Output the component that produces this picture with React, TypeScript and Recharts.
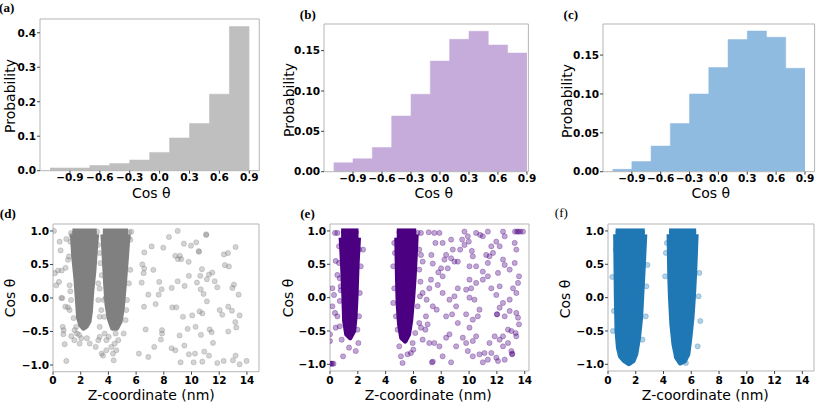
import React from 'react';
import { ComposedChart, Area, Scatter, XAxis, YAxis, ReferenceArea } from 'recharts';

// ---------- histogram data ----------
const binCenters = [-1.0, -0.8, -0.6, -0.4, -0.2, 0.0, 0.2, 0.4, 0.6, 0.8];
const binWidth = 0.2;
const histTicks = [-0.9, -0.6, -0.3, 0.0, 0.3, 0.6, 0.9];
const probA = [0.008, 0.008, 0.015, 0.021, 0.031, 0.053, 0.095, 0.137, 0.222, 0.418];
const probB = [0.011, 0.016, 0.030, 0.069, 0.096, 0.137, 0.164, 0.174, 0.157, 0.147];
const probC = [0.003, 0.013, 0.033, 0.062, 0.100, 0.134, 0.170, 0.181, 0.173, 0.133];
const yTicksA = [0, 0.1, 0.2, 0.3, 0.4];
const yTicksBC = [0, 0.05, 0.1, 0.15];

// ---------- scatter data ----------
const zTicks = [0, 2, 4, 6, 8, 10, 12, 14];
const cosTicks = [-1, -0.5, 0, 0.5, 1];
const clusterTop = 1.0;

// dense-cluster lower boundaries [z, lowest cos]
const clusterD1 = [[1.4, 0.95], [1.5, 0.6], [1.65, 0.3], [1.75, 0.0], [1.85, -0.3], [2.0, -0.4], [2.2, -0.45], [2.4, -0.42], [2.6, -0.35], [2.7, -0.2], [2.8, 0.1], [2.95, 0.4], [3.05, 0.7], [3.15, 0.95]];
const clusterD2 = [[3.6, 0.95], [3.7, 0.6], [3.8, 0.2], [3.9, -0.1], [4.05, -0.3], [4.3, -0.45], [4.6, -0.45], [4.85, -0.35], [5.0, -0.15], [5.15, 0.2], [5.3, 0.6], [5.42, 0.95]];
const clusterE1 = [[0.8, 0.9], [0.9, 0.5], [1.0, 0.0], [1.05, -0.35], [1.2, -0.55], [1.45, -0.6], [1.7, -0.5], [1.8, -0.3], [1.87, 0.0], [1.95, 0.5], [2.05, 0.9]];
const clusterE2 = [[4.8, 0.9], [4.85, 0.3], [4.9, -0.1], [5.0, -0.4], [5.15, -0.6], [5.4, -0.65], [5.65, -0.55], [5.8, -0.35], [5.95, 0.0], [6.05, 0.3], [6.15, 0.7], [6.2, 0.95]];
const clusterF1 = [[0.55, 0.95], [0.6, 0.0], [0.65, -0.5], [0.75, -0.75], [0.9, -0.88], [1.2, -0.95], [1.5, -0.99], [1.8, -0.95], [2.0, -0.85], [2.2, -0.6], [2.35, -0.3], [2.45, 0.1], [2.55, 0.5], [2.65, 0.95]];
const clusterF2 = [[4.4, 0.95], [4.45, 0.3], [4.5, 0.0], [4.6, -0.4], [4.75, -0.7], [4.95, -0.9], [5.2, -0.98], [5.5, -0.95], [5.75, -0.85], [5.9, -0.6], [6.05, -0.3], [6.15, 0.0], [6.25, 0.4], [6.35, 0.95]];

// sparse points [z, cos]
const sparseD = [
  [0.07, 1.0], [0.14, 0.37], [0.36, 0.41], [0.63, 0.41], [0.48, 0.84], [0.55, 0.71], [0.43, 0.24], [0.24, 0.19], [0.6, 0.0], [0.67, 0.0],
  [0.89, -0.13], [1.08, -0.14], [0.7, -0.43], [0.77, -0.48], [0.75, -0.54], [0.84, -0.69], [0.96, -0.94], [0.96, 0.88], [0.91, 0.45], [1.2, 0.19],
  [1.25, 0.1], [1.32, -0.57], [1.54, -0.63], [1.73, -0.53], [1.92, -0.68], [2.04, -0.6], [1.3, -0.03], [1.2, -0.18], [1.49, -0.3], [1.68, -0.43],
  [1.88, -0.55], [1.56, -0.48], [1.25, 0.84], [1.15, 0.62], [1.08, 0.57], [1.3, 0.97], [1.35, 0.93],
  [3.27, 0.22], [3.37, 0.14], [3.27, -0.03], [3.37, -0.28], [3.37, -0.43], [3.27, -0.63], [3.08, -0.73], [2.65, -0.68], [2.45, -0.6], [3.37, -0.58],
  [3.73, -0.53], [3.85, -0.63], [4.02, -0.58], [4.21, -0.73], [4.33, -0.83], [4.57, -0.78], [4.45, -0.68], [4.52, -0.53], [4.71, -0.63], [3.61, -0.86],
  [3.51, -0.83], [4.38, -0.93], [3.85, -0.78], [5.1, -0.53], [5.24, -0.33], [5.29, -0.18], [5.34, -0.03], [5.48, 0.22], [5.58, 0.42], [5.65, 0.99],
  [5.58, 0.87], [5.29, 0.72], [3.18, 0.99], [3.25, 0.79], [3.37, 0.67], [3.42, 0.52], [3.51, 0.34], [3.66, -0.03], [3.8, 0.0], [3.49, -0.18], [3.7, -0.28],
  [5.5, 0.98], [5.45, 0.9],
  [8.37, 0.91], [9.0, 1.0], [7.96, 0.75], [7.12, 0.77], [9.45, 0.81], [9.96, 0.78], [10.34, 0.83], [11.06, 0.95], [11.06, 0.94], [6.59, 0.68],
  [7.24, 0.42], [6.59, 0.44], [6.54, 0.37], [6.45, 0.5], [6.4, 0.23], [8.83, 0.63], [9.16, 0.63], [9.02, 0.58], [9.26, 0.58], [9.79, 0.54],
  [10.54, 0.69], [10.52, 0.7], [10.75, 0.43], [10.63, 0.33], [11.26, 0.35], [11.5, 0.38], [11.67, 0.25], [11.86, 0.16], [12.34, 0.65], [12.63, 0.67],
  [12.7, 0.47], [12.41, 0.49], [13.18, 0.76], [13.06, 0.2], [12.95, 0.15], [13.4, 0.05], [11.11, 0.28], [10.39, 0.23], [9.5, 0.18], [9.0, 0.25],
  [8.57, 0.15], [7.84, 0.13], [7.63, 0.05], [6.88, 0.05], [7.67, 0.24], [9.81, 0.33], [10.66, 0.13], [11.11, -0.05], [10.87, 0.06],
  [6.57, -0.13], [7.41, -0.09], [8.61, -0.14], [8.9, -0.14], [9.38, -0.28], [10.05, -0.26], [10.58, -0.2], [10.78, -0.23], [11.31, -0.47], [12.03, -0.18],
  [12.22, -0.25], [12.65, -0.13], [12.92, -0.19], [13.47, -0.26], [13.16, -0.36], [13.23, -0.44], [12.65, -0.5], [11.45, -0.51], [10.68, -0.55], [10.29, -0.43],
  [9.72, -0.46], [9.14, -0.56], [7.87, -0.48], [7.87, -0.53], [6.69, -0.47], [7.31, -0.73], [7.79, -0.62], [9.48, -0.71], [8.83, -0.78], [10.92, -0.8],
  [11.55, -0.67], [11.26, -0.86], [9.81, -0.84], [10.25, -0.83], [10.78, -0.95], [10.15, -0.96], [9.21, -0.96], [6.2, -0.83], [6.88, -0.88], [11.86, -0.97],
  [12.32, -0.94], [12.99, -0.93], [13.18, -0.86], [13.47, -0.99], [13.97, -0.94], [8.56, -0.75],
];

const sparseE = [
  [0.0, -0.99], [0.08, -0.99], [0.15, -0.99], [0.25, -0.99], [0.0, -0.55], [0.0, -0.65], [0.17, -0.13], [0.17, 0.14], [0.29, 0.04], [0.53, 0.34],
  [0.36, 0.97], [0.53, 0.97], [0.65, 0.77], [0.41, 0.55], [0.65, 0.52], [0.36, -0.23], [0.53, -0.28], [0.7, -0.43], [0.41, -0.45], [0.84, -0.63],
  [0.94, -0.88], [0.7, -0.05], [0.77, 0.11], [0.77, 0.17], [0.7, 0.29],
  [2.09, 0.72], [2.21, 0.47], [2.38, 0.72], [2.14, 0.07], [1.97, -0.48], [2.04, -0.68], [1.85, -0.8], [1.37, -0.75], [2.09, -0.28],
  [4.62, 0.82], [4.67, 0.67], [4.55, 0.47], [4.62, 0.14], [4.55, -0.08], [4.74, -0.28], [4.86, -0.48], [4.98, -0.73], [5.1, -0.88], [5.22, -0.98],
  [5.22, -0.43], [5.41, -0.63],
  [6.3, 0.97], [6.54, 0.97], [6.42, 0.72], [6.54, 0.64], [6.66, 0.54], [6.42, 0.42], [6.5, 0.24], [6.66, 0.07], [6.47, 0.02], [6.3, -0.13],
  [6.42, -0.38], [6.54, -0.45], [6.13, -0.53], [5.94, -0.68], [5.82, -0.83], [5.99, -0.78], [5.58, -0.85],
  [7.1, 0.98], [7.5, 0.97], [7.87, 0.97], [7.58, 0.82], [7.29, 0.64], [7.39, 0.51], [7.79, 0.38], [8.1, 0.32], [7.26, 0.27], [7.14, 0.14],
  [6.95, -0.03], [7.39, -0.13], [7.67, -0.18], [6.9, -0.28], [7.02, -0.4], [6.86, -0.48], [6.66, -0.63], [7.14, -0.68], [7.5, -0.68], [7.87, -0.73],
  [7.39, -0.96], [7.33, -0.97], [8.35, -0.6], [8.1, -0.88], [8.71, -0.97], [8.59, -0.55], [8.23, 0.57], [8.71, 0.59], [8.95, 0.54], [9.19, 0.54],
  [9.36, 0.72], [9.5, 0.87], [9.67, 0.99], [9.91, 0.92], [9.98, 0.84], [10.51, 0.97], [10.8, 0.94], [10.99, 0.92], [11.35, 0.99], [11.96, 0.84],
  [12.44, 0.99], [12.56, 0.92], [12.2, 0.77], [11.23, 0.64], [11.47, 0.62], [11.35, 0.52], [12.44, 0.57], [12.56, 0.49], [12.92, 0.42], [13.28, 0.52],
  [13.4, 0.72], [13.28, 0.82], [13.3, 0.99], [13.45, 0.99], [13.55, 0.99], [13.69, 0.99], [13.88, 0.99], [13.59, 0.32], [13.52, 0.22], [13.16, 0.14],
  [13.4, 0.07], [12.92, -0.03], [12.44, -0.08], [12.2, -0.15], [12.0, -0.25], [12.02, -0.25], [12.56, -0.28], [12.92, -0.2], [13.4, -0.23], [13.52, -0.3],
  [13.59, -0.4], [13.35, -0.53], [13.04, -0.5], [12.8, -0.48], [12.44, -0.58], [12.2, -0.63], [11.84, -0.58], [11.47, -0.68], [11.6, -0.83], [11.11, -0.83],
  [12.08, -0.95], [11.96, -0.9], [12.44, -0.73], [12.8, -0.68], [13.04, -0.8], [13.11, -0.84], [13.09, -0.85], [13.4, -0.58], [12.56, -0.93], [10.63, -0.28],
  [10.75, -0.18], [10.39, -0.03], [10.03, 0.0], [9.79, 0.12], [10.15, 0.14], [10.51, 0.22], [10.99, 0.27], [11.35, 0.32], [10.99, 0.39], [10.03, 0.27],
  [9.19, 0.14], [8.95, 0.02], [8.59, -0.03], [9.07, -0.13], [8.78, -0.25], [8.35, -0.28], [9.19, -0.38], [9.79, -0.25], [10.27, -0.33], [10.03, -0.45],
  [10.51, -0.58], [10.27, -0.65], [9.79, -0.68], [9.91, -0.8], [10.75, -0.85], [10.99, -0.97], [11.35, -0.93], [10.27, -0.88], [9.55, -0.6], [9.07, -0.73],
  [8.1, 0.07], [7.75, 0.19], [7.99, 0.44], [8.47, 0.44], [8.35, 0.64], [8.83, 0.72], [8.1, 0.82], [8.71, 0.87], [9.67, 0.79], [10.2, 0.7],
  [10.27, 0.62], [10.03, 0.47], [10.51, 0.47], [11.6, 0.77], [11.72, 0.67], [12.08, 0.37], [12.2, 0.17], [11.6, 0.14], [11.96, 0.04],
];

const sparseF = [
  [0.31, 0.31], [0.43, -0.2], [0.36, -0.5], [0.55, 0.72], [4.17, 0.67], [4.24, 0.82], [4.12, 0.32], [6.58, 0.37], [6.65, -0.35], [6.53, 0.02],
  [2.77, 0.17], [2.72, -0.28], [2.84, 0.49], [1.52, -0.98], [1.28, -0.85], [2.48, -0.63], [5.61, -0.98], [4.94, -0.88], [0.8, 0.97], [6.46, -0.73],
];

// ---------- helpers ----------
const minus = '\u2212';
const fmt = (d: number) => (v: number) => {
  const s = Math.abs(v).toFixed(d);
  return v < -1e-9 ? minus + s : s;
};
// step outline of bars: left edge of every bar, plus right edge of the last one
const stepData = (probs: number[]) => {
  const rows = binCenters.map((c, i) => ({ x: c - binWidth / 2, p: probs[i] }));
  rows.push({ x: binCenters[binCenters.length - 1] + binWidth / 2, p: probs[probs.length - 1] });
  return rows;
};
const clusterData = (c1: number[][], c2: number[][]) => [
  ...c1.map(([x, lo]) => ({ x, c1: [lo, clusterTop] })),
  ...c2.map(([x, lo]) => ({ x, c2: [lo, clusterTop] })),
];
const pts = (arr: number[][]) => arr.map(([x, y]) => ({ x, y }));

const YW = 44;
const MT = 8;
const MR = 14;
const XH = 22;
const SPINE = '#b5b5b5';
const TICK_FONT = { fontSize: 10.5, fontWeight: 700, fill: '#000', fontFamily: 'DejaVu Sans' } as const;

const makeXTick = (f: (v: number) => string, dy: number) => (props: any) => (
  <text x={props.x} y={props.y + dy} textAnchor="middle" {...TICK_FONT}>{f(props.payload.value)}</text>
);
const makeYTick = (f: (v: number) => string) => (props: any) => (
  <text x={props.x} y={props.y + 3.8} textAnchor="end" {...TICK_FONT}>{f(props.payload.value)}</text>
);

type Rect = { L: number; T: number; R: number; B: number };

function HistPanel({ rect, probs, color, xDomain, yDomain, yTicks, yDec }: { rect: Rect; probs: number[]; color: string; xDomain: number[]; yDomain: number[]; yTicks: number[]; yDec: number }) {
  const W = rect.R - rect.L + YW + MR;
  const H = rect.B - rect.T + MT + XH;
  return (
    <div style={{ position: 'absolute', left: rect.L - YW, top: rect.T - MT }}>
      <ComposedChart width={W} height={H} data={stepData(probs)} margin={{ top: MT, right: MR, bottom: 0, left: 0 }}>
        <XAxis type="number" dataKey="x" domain={xDomain} ticks={histTicks} interval={0} allowDataOverflow
          axisLine={false} tickSize={3} tickMargin={0} tickLine={{ stroke: '#444' }} tick={makeXTick(fmt(1), 7.8)} height={XH} />
        <YAxis type="number" domain={yDomain} ticks={yTicks} interval={0} allowDataOverflow
          axisLine={false} tickSize={3} tickMargin={1} tickLine={{ stroke: '#444' }} tick={makeYTick(fmt(yDec))} width={YW} />
        <Area type="stepAfter" dataKey="p" fill={color} fillOpacity={1} stroke={color} strokeWidth={0.5} isAnimationActive={false} />
        <ReferenceArea x1={xDomain[0]} x2={xDomain[1]} y1={yDomain[0]} y2={yDomain[1]} fill="none" stroke={SPINE} strokeWidth={1} ifOverflow="visible" />
      </ComposedChart>
    </div>
  );
}

function ScatterPanel({ rect, c1, c2, sparse, xMax, color, op }: { rect: Rect; c1: number[][]; c2: number[][]; sparse: number[][]; xMax: number; color: string; op: number }) {
  const W = rect.R - rect.L + YW + MR;
  const H = rect.B - rect.T + MT + XH;
  const xDomain = [0, xMax];
  const yDomain = [-1.1, 1.104];
  const dot = (props: any) => (
    <circle cx={props.cx} cy={props.cy} r={2.6} fill={color} fillOpacity={op} stroke={color} strokeOpacity={op} strokeWidth={0.8} />
  );
  return (
    <div style={{ position: 'absolute', left: rect.L - YW, top: rect.T - MT }}>
      <ComposedChart width={W} height={H} data={clusterData(c1, c2)} margin={{ top: MT, right: MR, bottom: 0, left: 0 }}>
        <XAxis type="number" dataKey="x" domain={xDomain} ticks={zTicks} interval={0} allowDataOverflow
          axisLine={false} tickSize={3} tickMargin={0} tickLine={{ stroke: '#444' }} tick={makeXTick((v) => String(v), 9.5)} height={XH} />
        <YAxis type="number" dataKey="y" domain={yDomain} ticks={cosTicks} interval={0} allowDataOverflow
          axisLine={false} tickSize={3} tickMargin={1} tickLine={{ stroke: '#444' }} tick={makeYTick(fmt(1))} width={YW} />
        <Area type="linear" dataKey="c1" fill={color} fillOpacity={1} stroke={color} strokeWidth={5} strokeLinejoin="round" isAnimationActive={false} />
        <Area type="linear" dataKey="c2" fill={color} fillOpacity={1} stroke={color} strokeWidth={5} strokeLinejoin="round" isAnimationActive={false} />
        <Scatter data={pts(sparse)} shape={dot} isAnimationActive={false} />
        <ReferenceArea x1={xDomain[0]} x2={xDomain[1]} y1={yDomain[0]} y2={yDomain[1]} fill="none" stroke={SPINE} strokeWidth={1} ifOverflow="visible" />
      </ComposedChart>
    </div>
  );
}

const Label = ({ text, x, y, rotate, style }: { text: string; x: number; y: number; rotate?: boolean; style?: any }) => (
  <div style={{
    position: 'absolute', left: x, top: y, whiteSpace: 'nowrap', lineHeight: 1,
    transform: `translate(-50%, -50%)${rotate ? ' rotate(-90deg)' : ''}`,
    fontFamily: 'DejaVu Sans', fontSize: 14, color: '#000', ...style,
  }}>{text}</div>
);

const panelFont = { fontFamily: 'Liberation Serif', fontWeight: 'bold', fontSize: 13 };

export default function App() {
  return (
    <div style={{ position: 'fixed', left: 0, top: 0, width: 817, height: 403, background: '#fff', overflow: 'hidden', fontFamily: 'DejaVu Sans' }}>
      <HistPanel rect={{ L: 40, T: 19, R: 259.3, B: 170.7 }} probs={probA} color="#bfbfbf" xDomain={[-1.2, 1.0]} yDomain={[0, 0.44]} yTicks={yTicksA} yDec={1} />
      <HistPanel rect={{ L: 324.3, T: 24, R: 528.7, B: 171.7 }} probs={probB} color="#c6acda" xDomain={[-1.2, 0.915]} yDomain={[0, 0.183]} yTicks={yTicksBC} yDec={2} />
      <HistPanel rect={{ L: 602.7, T: 24, R: 814.3, B: 171.7 }} probs={probC} color="#8fbbe0" xDomain={[-1.2, 1.0]} yDomain={[0, 0.19]} yTicks={yTicksBC} yDec={2} />

      <ScatterPanel rect={{ L: 53.3, T: 224, R: 259.3, B: 371.7 }} c1={clusterD1} c2={clusterD2} sparse={sparseD} xMax={14.87} color="#808080" op={0.35} />
      <ScatterPanel rect={{ L: 330.3, T: 224, R: 529.3, B: 371 }} c1={clusterE1} c2={clusterE2} sparse={sparseE} xMax={14.31} color="#4b0082" op={0.35} />
      <ScatterPanel rect={{ L: 608.3, T: 224, R: 814.3, B: 371 }} c1={clusterF1} c2={clusterF2} sparse={sparseF} xMax={14.84} color="#1f77b4" op={0.35} />

      <Label text="Probability" x={9.5} y={95.7} rotate />
      <Label text="Probability" x={289} y={100} rotate />
      <Label text="Probability" x={566.7} y={101} rotate />
      <Label text="Cos θ" x={151.3} y={192.5} />
      <Label text="Cos θ" x={433.8} y={193.2} />
      <Label text="Cos θ" x={710.8} y={193} />

      <Label text="Cos θ" x={10} y={298.3} rotate />
      <Label text="Cos θ" x={288.3} y={298.3} rotate />
      <Label text="Cos θ" x={565} y={299.3} rotate />
      <Label text="Z-coordinate (nm)" x={151.3} y={395} />
      <Label text="Z-coordinate (nm)" x={428.3} y={395} />
      <Label text="Z-coordinate (nm)" x={705.3} y={394.5} />

      <Label text="(a)" x={6.7} y={6.7} style={panelFont} />
      <Label text="(b)" x={307.8} y={13.7} style={panelFont} />
      <Label text="(c)" x={570.8} y={13.7} style={panelFont} />
      <Label text="(d)" x={7.8} y={212.8} style={panelFont} />
      <Label text="(e)" x={307.5} y={213.3} style={panelFont} />
      <Label text="(f)" x={561.3} y={212.2} style={{ ...panelFont, fontWeight: 'normal' }} />
    </div>
  );
}
